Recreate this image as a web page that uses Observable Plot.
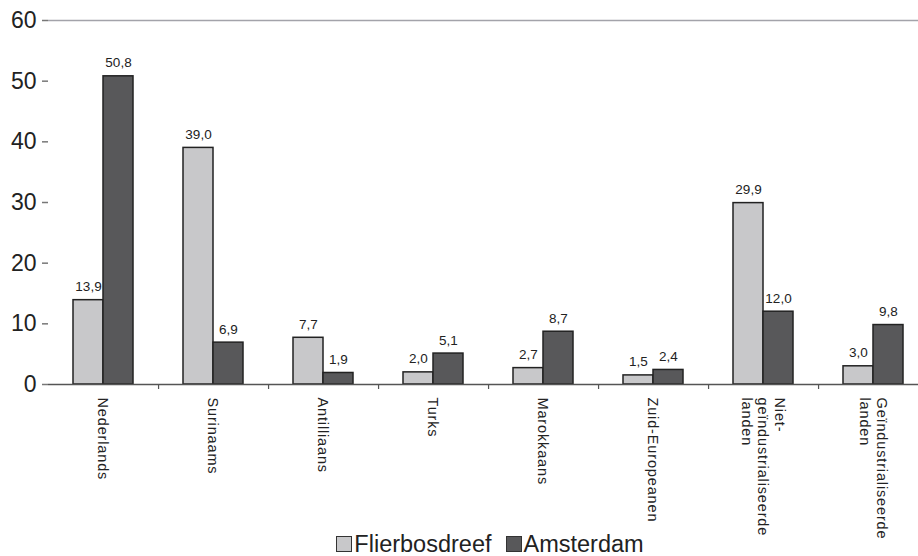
<!DOCTYPE html>
<html>
<head>
<meta charset="utf-8">
<script src="https://cdn.jsdelivr.net/npm/d3@7"></script>
<script src="https://cdn.jsdelivr.net/npm/@observablehq/plot@0.6"></script>
<style>
  html, body { margin: 0; padding: 0; overflow: hidden; background: #fff; }
  #chart { width: 930px; height: 540px; }
  g[aria-description="cat"] text { letter-spacing: 0.85px; }
  .legend { position: absolute; left: 0; top: 533px; width: 930px; height: 22px; box-sizing: border-box; padding-left: 50px;
            display: flex; justify-content: center; align-items: center;
            font-family: "Liberation Sans", Arial, sans-serif; font-size: 23.5px; color: #222; line-height: 22px; }
  .legend .item { display: flex; align-items: center; margin: 0 7px; }
  .legend .sw { width: 16px; height: 16px; border: 1.3px solid #333; margin-right: 2px; box-sizing: border-box; }
</style>
</head>
<body>
<div id="chart"></div>
<script>
const categories = ["Nederlands", "Surinaams", "Antilliaans", "Turks", "Marokkaans", "Zuid-Europeanen",
  "Niet-\ngeïndustrialiseerde\nlanden", "Geïndustrialiseerde\nlanden"];
const series = ["Flierbosdreef", "Amsterdam"];
const flierbosdreef = [13.9, 39.0, 7.7, 2.0, 2.7, 1.5, 29.9, 3.0];
const amsterdam = [50.8, 6.9, 1.9, 5.1, 8.7, 2.4, 12.0, 9.8];
const yTicks = [0, 10, 20, 30, 40, 50, 60];
const colors = ["#c8c8ca", "#58585a"];

const data = categories.flatMap((c, i) => [
  {category: c, series: series[0], value: flierbosdreef[i]},
  {category: c, series: series[1], value: amsterdam[i]}
]);
const fmt = v => v.toFixed(1).replace(".", ",");
const font = "Liberation Sans, Arial, sans-serif";

const plot = Plot.plot({
  width: 930,
  height: 540,
  marginLeft: 47,
  marginRight: 2,
  marginTop: 20,
  marginBottom: 156,
  style: {fontFamily: font, color: "#222", background: "transparent"},
  fx: {domain: categories, padding: 0, axis: null},
  x: {domain: series, paddingInner: 0, paddingOuter: 0.776, axis: null},
  y: {domain: [0, 60], axis: null},
  color: {domain: series, range: colors},
  marks: [
    Plot.ruleY([60], {stroke: "#a3a3aa", strokeWidth: 1.5}),
    Plot.barY(data, {fx: "category", x: "series", y: "value", fill: "series", stroke: "#222", strokeWidth: 1.5}),
    Plot.ruleY([0], {stroke: "#555", strokeWidth: 1.5}),
    Plot.ruleX(categories, {fx: d => d, x: null, y1: 0, y2: 0, dx: (930 - 49) / 8 / 2, insetBottom: -5, stroke: "#555", strokeWidth: 1.2}),
    Plot.axisY({ticks: yTicks, label: null, tickSize: 6, tickPadding: 6, fontSize: 23, line: true, stroke: "#777", strokeWidth: 1.5, strokeOpacity: 1, color: "#222", tickFormat: d => d}),
    Plot.text(data, {fx: "category", x: "series", y: "value", text: d => fmt(d.value), dy: -9, lineAnchor: "bottom", fontSize: 13.5, fill: "#222"}),
    Plot.text(categories, {fx: d => d, text: d => d, frameAnchor: "bottom", dy: 13, rotate: 90, textAnchor: "start", lineAnchor: "middle", lineHeight: 1.15, fontSize: 14.5, fill: "#222", ariaDescription: "cat"})
  ]
});
document.getElementById("chart").appendChild(plot);

const legend = document.createElement("div");
legend.className = "legend";
series.forEach((s, i) => {
  const item = document.createElement("div");
  item.className = "item";
  const sw = document.createElement("span");
  sw.className = "sw";
  sw.style.background = colors[i];
  const t = document.createElement("span");
  t.textContent = s;
  item.appendChild(sw);
  item.appendChild(t);
  legend.appendChild(item);
});
document.body.appendChild(legend);
</script>
</body>
</html>
